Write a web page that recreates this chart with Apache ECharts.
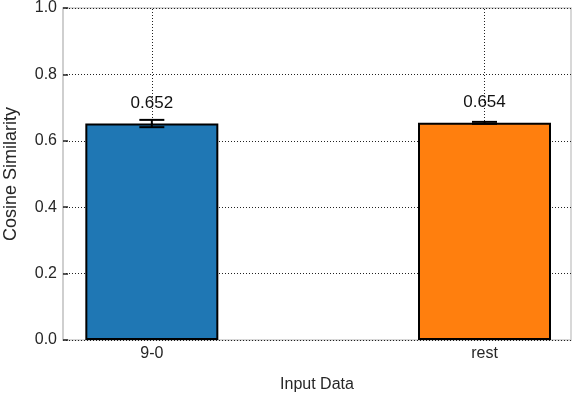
<!DOCTYPE html>
<html>
<head>
<meta charset="utf-8">
<script src="https://cdn.jsdelivr.net/npm/echarts@6/dist/echarts.min.js"></script>
<style>
  html, body { margin: 0; padding: 0; background: #fff; }
  #chart { width: 574px; height: 394px; }
</style>
</head>
<body>
<div id="chart"></div>
<script>
  const categories = ['9-0', 'rest']
  const means = [0.652, 0.654]
  const errors = [0.011, 0.003]
  const barColors = ['#1f77b4', '#ff7f0e']
  const positions = [0, 1]

  const font = 'Liberation Sans, Arial, sans-serif'
  const chart = echarts.init(document.getElementById('chart'))

  chart.setOption({
    animation: false,
    grid: {
      left: 63, right: 3, top: 8, bottom: 54,
      outerBoundsMode: 'none',
      containLabel: false,
      show: true,
      borderColor: '#cccccc',
      borderWidth: 1.5
    },
    xAxis: {
      type: 'value',
      min: -0.267,
      max: 1.26,
      name: 'Input Data',
      nameLocation: 'middle',
      nameGap: 37,
      nameTextStyle: { fontFamily: font, fontSize: 16, color: '#262626' },
      axisLine: { show: false, onZero: false },
      axisTick: { show: false, customValues: positions },
      splitLine: { show: false },
      axisLabel: {
        customValues: positions,
        margin: 6,
        fontFamily: font, fontSize: 16, color: '#262626',
        formatter: v => categories[Math.round(v)]
      }
    },
    yAxis: {
      type: 'value',
      min: 0, max: 1, interval: 0.2,
      name: 'Cosine Similarity',
      nameLocation: 'middle',
      nameGap: 43,
      nameTextStyle: { fontFamily: font, fontSize: 18, color: '#262626' },
      axisLine: { show: true, onZero: false, lineStyle: { color: '#cccccc', width: 1.5 } },
      axisTick: { show: true, inside: true, length: 5, lineStyle: { color: '#222', width: 1.5 } },
      splitLine: { show: true, lineStyle: { color: '#222', type: [1, 2], width: 1 } },
      axisLabel: {
        margin: 6,
        fontFamily: font, fontSize: 16, color: '#262626',
        formatter: v => v.toFixed(1)
      }
    },
    series: [
      {
        // vertical grid lines at category positions, kept under the bars
        type: 'line',
        data: [],
        z: 1,
        markLine: {
          z: 1,
          silent: true,
          symbol: 'none',
          label: { show: false },
          lineStyle: { color: '#222', type: [1, 2], width: 1 },
          data: positions.map(p => ({ xAxis: p }))
        }
      },
      {
        type: 'bar',
        barWidth: 133,
        z: 3,
        data: positions.map((p, i) => ({
          value: [p, means[i]],
          itemStyle: { color: barColors[i] }
        })),
        itemStyle: { borderColor: '#000', borderWidth: 2 },
        label: {
          show: true,
          position: 'top',
          distance: 12,
          fontFamily: font, fontSize: 17, color: '#111',
          formatter: p => p.value[1].toFixed(3)
        }
      },
      {
        type: 'custom',
        z: 4,
        data: positions.map((p, i) => [p, means[i] - errors[i], means[i] + errors[i]]),
        renderItem: (params, api) => {
          const lo = api.coord([api.value(0), api.value(1)])
          const hi = api.coord([api.value(0), api.value(2)])
          const half = 12.5
          const style = { stroke: '#000', lineWidth: 2 }
          return {
            type: 'group',
            children: [
              { type: 'line', shape: { x1: lo[0], y1: lo[1], x2: hi[0], y2: hi[1] }, style },
              { type: 'line', shape: { x1: lo[0] - half, y1: lo[1], x2: lo[0] + half, y2: lo[1] }, style },
              { type: 'line', shape: { x1: hi[0] - half, y1: hi[1], x2: hi[0] + half, y2: hi[1] }, style }
            ]
          }
        }
      }
    ]
  })
</script>
</body>
</html>
